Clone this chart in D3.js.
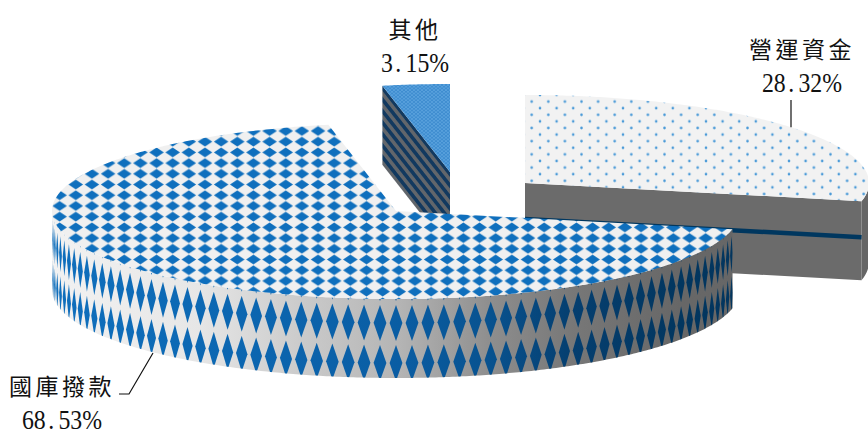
<!DOCTYPE html>
<html>
<head>
<meta charset="utf-8">
<title>3D pie</title>
<script src="https://cdn.jsdelivr.net/npm/d3@7"></script>
<style>
  html, body { margin: 0; padding: 0; background: #fff; overflow: hidden; }
  svg { display: block; }
  .cjk { font-family: "Noto Sans CJK TC", sans-serif; font-size: 23px; letter-spacing: 3.5px; fill: #111; }
  .num { font-family: "Liberation Serif", serif; font-size: 28px; fill: #111; }
</style>
</head>
<body>
<svg id="chart" width="868" height="435"></svg>
<script>
// the values
var categories = ["營運資金", "國庫撥款", "其他"];
var shares = [28.32, 68.53, 3.15];

// page layout of the tilted pie
var width = 868, height = 435;
var rx = 344, ry = 88, depth = 79;
var pieCentre = [396, 211];
// how far each slice was pulled out of the pie
var explode = [[129, -28], [0, 0], [54, -39]];
var labelPos = [
    { x: 802, nameY: 58, valueY: 92 },
    { x: 62, nameY: 395, valueY: 428.5 },
    { x: 415, nameY: 38, valueY: 72 }
];

var svg = d3.select("#chart");
var defs = svg.append("defs");

var slices = d3.pie().sort(null)(shares);

// scales that take the unit circle to the tilted ellipse of one slice
function projector(i) {
    var cx = pieCentre[0] + explode[i][0];
    var cy = pieCentre[1] + explode[i][1];
    var xs = d3.scaleLinear().domain([-1, 1]).range([cx - rx, cx + rx]);
    var ys = d3.scaleLinear().domain([-1, 1]).range([cy + ry, cy - ry]);
    // theta is clockwise from 12 o'clock, z goes down from the top face
    return function(theta, r, z) {
        return [xs(r * Math.sin(theta)), ys(r * Math.cos(theta)) + z];
    };
}

function arcPoints(p, a0, a1, z) {
    var n = Math.max(2, Math.ceil(Math.abs(a1 - a0) / 0.01));
    return d3.range(n + 1).map(function(k) {
        return p(a0 + (a1 - a0) * k / n, 1, z);
    });
}

var shape = d3.line().curve(d3.curveLinearClosed);

// ---- fills ----
function hGradient(id, stops) {
    var g = defs.append("linearGradient").attr("id", id)
        .attr("gradientUnits", "userSpaceOnUse")
        .attr("x1", 0).attr("x2", width).attr("y1", 0).attr("y2", 0);
    stops.forEach(function(s) {
        g.append("stop").attr("offset", s[0] / width).attr("stop-color", s[1]);
    });
}
hGradient("wallBase", [[50, "#f2f2f2"], [200, "#e6e6e6"], [300, "#cbcbcb"], [400, "#b4b4b4"],
    [490, "#8e8e8e"], [570, "#787878"], [680, "#676767"], [868, "#666666"]]);
hGradient("wallDiamond", [[50, "#0f6fbd"], [250, "#0c66b0"], [400, "#0a5da3"],
    [490, "#08528f"], [570, "#053f70"], [680, "#02365f"], [868, "#02335c"]]);

var tileW = 16.15, tileH = 10.71;
var diamonds = defs.append("pattern").attr("id", "diamonds")
    .attr("patternUnits", "userSpaceOnUse")
    .attr("x", 205 - tileW / 2).attr("y", 141.7 - tileH / 2)
    .attr("width", tileW).attr("height", tileH);
diamonds.append("rect").attr("width", tileW).attr("height", tileH).attr("fill", "#f0f0f0");
diamonds.append("polygon").attr("fill", "#0f6fbd")
    .attr("points", [[0.8, tileH / 2], [tileW / 2, 0.5], [tileW - 0.8, tileH / 2], [tileW / 2, tileH - 0.5]].join(" "));

var dots = defs.append("pattern").attr("id", "dots")
    .attr("patternUnits", "userSpaceOnUse")
    .attr("x", 540).attr("y", 95).attr("width", 16.6).attr("height", 13.2);
dots.append("rect").attr("width", 16.6).attr("height", 13.2).attr("fill", "#f2f2f2");
[[0, 0], [16.6, 0], [0, 13.2], [16.6, 13.2], [8.3, 6.6]].forEach(function(d) {
    dots.append("circle").attr("cx", d[0]).attr("cy", d[1]).attr("r", 1.3).attr("fill", "#4a9ad8");
});

var fine = defs.append("pattern").attr("id", "fineDots")
    .attr("patternUnits", "userSpaceOnUse").attr("width", 4).attr("height", 3.4);
fine.append("rect").attr("width", 4).attr("height", 3.4).attr("fill", "#3f8dd0");
[[0, 0], [4, 0], [0, 3.4], [4, 3.4], [2, 1.7]].forEach(function(d) {
    fine.append("circle").attr("cx", d[0]).attr("cy", d[1]).attr("r", 0.8).attr("fill", "#66ace4");
});

// stripes on the cut face of the small slice run along its top edge
var smallP = projector(2);
var smallA = smallP(0, 0, 0), smallB = smallP(slices[2].startAngle, 1, 0);
var stripeAngle = Math.atan2(smallA[1] - smallB[1], smallA[0] - smallB[0]) * 180 / Math.PI;
var stripes = defs.append("pattern").attr("id", "stripes")
    .attr("patternUnits", "userSpaceOnUse").attr("width", 7.1).attr("height", 7.1)
    .attr("patternTransform", "rotate(" + stripeAngle + ")");
stripes.append("rect").attr("width", 7.1).attr("height", 7.1).attr("fill", "#62666b");
stripes.append("rect").attr("width", 7.1).attr("height", 3.6).attr("fill", "#12395f");

var topFills = ["url(#dots)", "url(#diamonds)", "url(#fineDots)"];

// ---- draw a slice, back ones first ----
function drawSlice(i) {
    var s = slices[i], p = projector(i);
    var g = svg.append("g").attr("class", "slice-" + i);
    var apex = p(0, 0, 0), apexLow = p(0, 0, depth);

    // outer wall, only the part turned to the viewer
    var a0 = Math.max(s.startAngle, Math.PI / 2), a1 = Math.min(s.endAngle, Math.PI * 1.5);
    if (a1 > a0) {
        var wall = arcPoints(p, a0, a1, 0).concat(arcPoints(p, a1, a0, depth));
        var clipId = "wallClip" + i;
        defs.append("clipPath").attr("id", clipId).append("path").attr("d", shape(wall));
        g.append("path").attr("d", shape(wall)).attr("fill", "url(#wallBase)");
        if (i === 1) {
            var step = 16 / rx, half = step * 0.4;
            var cols = d3.range(Math.ceil((a0 - Math.PI) / step), Math.floor((a1 - Math.PI) / step) + 1);
            var rows = [-16, 24, 64];
            var wallG = g.append("g").attr("clip-path", "url(#" + clipId + ")");
            rows.forEach(function(z) {
                cols.forEach(function(k) {
                    var t = Math.PI + k * step;
                    wallG.append("path").attr("fill", "url(#wallDiamond)")
                        .attr("d", shape([p(t, 1, z - 18), p(t + half, 1, z), p(t, 1, z + 18), p(t - half, 1, z)]));
                });
            });
        }
    }

    // cut faces that can be seen
    if (i === 0) {
        var corner = p(s.endAngle, 1, 0), cornerLow = p(s.endAngle, 1, depth);
        g.append("path").attr("d", shape([apex, corner, cornerLow, apexLow])).attr("fill", "#6b6b6b");
        var a = p(0, 0, 36), b = p(s.endAngle, 1, 36);
        g.append("line").attr("x1", a[0]).attr("y1", a[1]).attr("x2", b[0]).attr("y2", b[1])
            .attr("stroke", "#00375f").attr("stroke-width", 4.5);
    }
    if (i === 2) {
        var left = p(s.startAngle, 1, 0), leftLow = p(s.startAngle, 1, depth);
        g.append("path").attr("d", shape([apex, left, leftLow, apexLow])).attr("fill", "url(#stripes)");
    }

    // top face
    g.append("path").attr("d", shape([apex].concat(arcPoints(p, s.startAngle, s.endAngle, 0))))
        .attr("fill", topFills[i]);
}

[2, 0, 1].forEach(drawSlice);

// ---- leader lines ----
var leader = d3.line();
var leaderTop = projector(0)(Math.asin(266 / rx), 1, 0);
svg.append("path").attr("fill", "none").attr("stroke", "#111").attr("stroke-width", 1.2)
    .attr("d", leader([[leaderTop[0], 100], leaderTop]));
svg.append("path").attr("fill", "none").attr("stroke", "#111").attr("stroke-width", 1.2)
    .attr("d", leader([[119, 394], [129, 394], [153, 353]]));

// ---- labels ----
var pct = d3.format(".2f");
categories.forEach(function(name, i) {
    var l = labelPos[i];
    svg.append("text").attr("class", "cjk").attr("text-anchor", "middle")
        .attr("x", l.x).attr("y", l.nameY).text(name);
    // the digits in the picture are tall and narrow with a wide gap round the point
    var txt = pct(shares[i]) + "%";
    var dx = txt.split("").map(function(c, k) {
        if (c === ".") return 3;
        return txt[k - 1] === "." ? 5 : 0;
    });
    svg.append("text").attr("class", "num").attr("text-anchor", "middle")
        .attr("transform", "translate(" + l.x + "," + l.valueY + ") scale(0.85,1)")
        .attr("dx", dx.join(" "))
        .text(txt);
});
</script>
</body>
</html>
